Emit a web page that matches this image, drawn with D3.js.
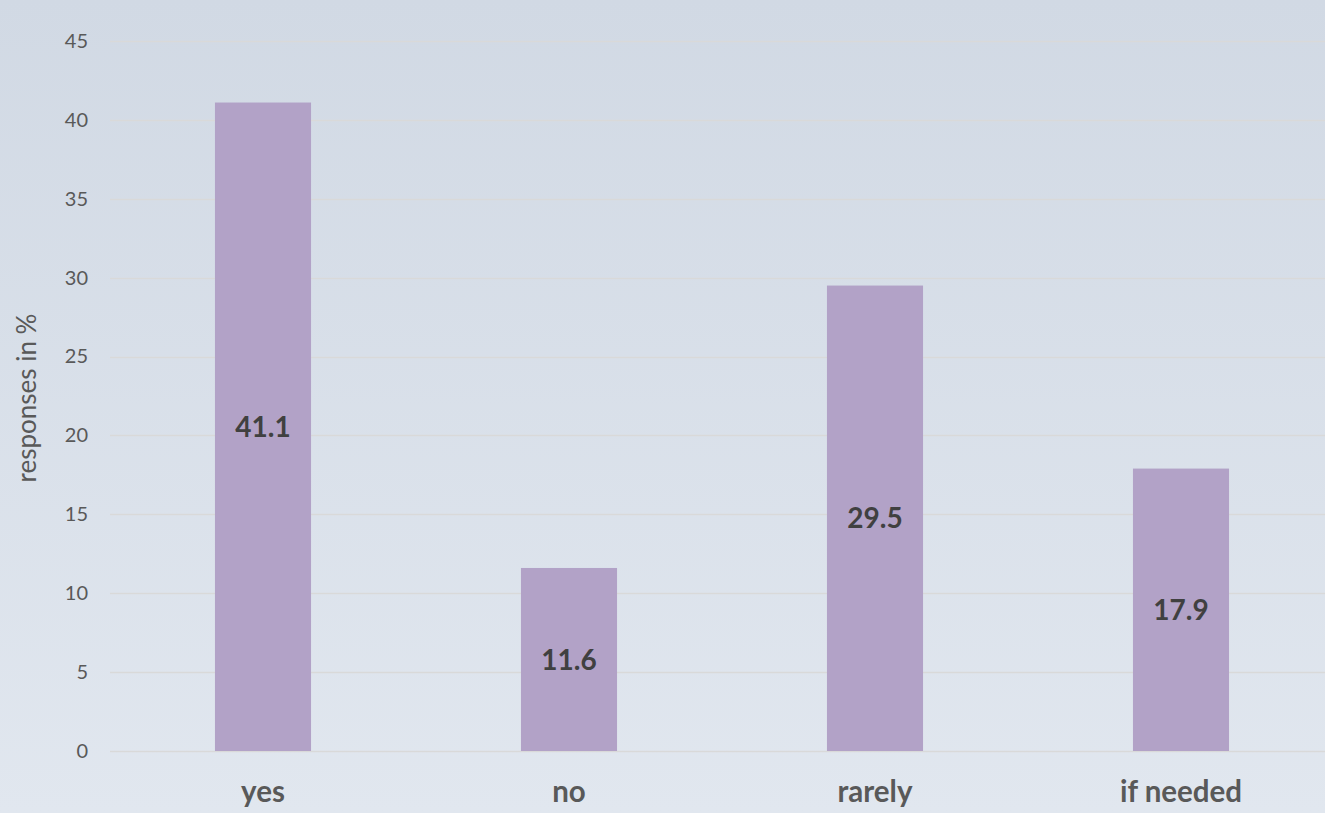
<!DOCTYPE html>
<html>
<head>
<meta charset="utf-8">
<script src="https://cdn.jsdelivr.net/npm/d3@7"></script>
<style>
  html, body { margin: 0; padding: 0; }
  body { width: 1325px; height: 813px; overflow: hidden; }
  svg { display: block; }
</style>
</head>
<body>
<svg id="chart" width="1325" height="813"></svg>
<script>
// Survey answers and their share of responses (%)
const categories = ["yes", "no", "rarely", "if needed"];
const values = [41.1, 11.6, 29.5, 17.9];
const yTicks = [0, 5, 10, 15, 20, 25, 30, 35, 40, 45];
const yTitle = "responses in %";

const W = 1325, H = 813;
const font = "Lato, 'Open Sans', 'Liberation Sans', sans-serif";
const svg = d3.select("#chart");

// soft vertical background gradient
const defs = svg.append("defs");
const grad = defs.append("linearGradient")
  .attr("id", "bg").attr("x1", 0).attr("y1", 0).attr("x2", 0).attr("y2", 1);
grad.append("stop").attr("offset", "0%").attr("stop-color", "#d1d9e4");
grad.append("stop").attr("offset", "100%").attr("stop-color", "#e1e7ef");
svg.append("rect").attr("width", W).attr("height", H).attr("fill", "url(#bg)");

const x = d3.scaleBand()
  .domain(categories)
  .range([110, 1334])
  .paddingInner(0.686)
  .paddingOuter(0.343);

const y = d3.scaleLinear().domain([0, 45]).range([751, 41]);

// horizontal gridlines
svg.append("g")
  .selectAll("line")
  .data(yTicks)
  .join("line")
  .attr("x1", 110).attr("x2", W)
  .attr("y1", d => Math.round(y(d)) + 0.5)
  .attr("y2", d => Math.round(y(d)) + 0.5)
  .attr("stroke", "#d9d9d9")
  .attr("stroke-width", 1.5);

// y axis tick labels
const yAxis = d3.axisLeft(y).tickValues(yTicks).tickSize(0).tickPadding(0);
const gy = svg.append("g").attr("transform", "translate(88,0)").call(yAxis);
gy.select(".domain").remove();
gy.selectAll("text")
  .attr("font-family", font)
  .attr("font-size", 20)
  .attr("fill", "#595959");

// y axis title
svg.append("text")
  .attr("transform", "translate(36,398) rotate(-90)")
  .attr("text-anchor", "middle")
  .attr("font-family", font)
  .attr("font-size", 26)
  .attr("fill", "#595959")
  .text(yTitle);

// bars
svg.append("g")
  .selectAll("rect")
  .data(categories)
  .join("rect")
  .attr("x", d => x(d))
  .attr("y", (d, i) => y(values[i]))
  .attr("width", x.bandwidth())
  .attr("height", (d, i) => y(0) - y(values[i]))
  .attr("fill", "#b2a2c7");

// value labels centered in bars
svg.append("g")
  .selectAll("text")
  .data(categories)
  .join("text")
  .attr("x", d => x(d) + x.bandwidth() / 2)
  .attr("y", (d, i) => (y(values[i]) + y(0)) / 2)
  .attr("dy", "0.36em")
  .attr("text-anchor", "middle")
  .attr("font-family", font)
  .attr("font-weight", "bold")
  .attr("font-size", 28)
  .attr("fill", "#404040")
  .text((d, i) => values[i].toFixed(1));

// category labels
const xAxis = d3.axisBottom(x).tickSize(0).tickPadding(0);
const gx = svg.append("g").attr("transform", "translate(0,802)").call(xAxis);
gx.select(".domain").remove();
gx.selectAll("text")
  .attr("dy", "0")
  .attr("font-family", font)
  .attr("font-weight", "bold")
  .attr("font-size", 29.5)
  .attr("fill", "#595959");
</script>
</body>
</html>
